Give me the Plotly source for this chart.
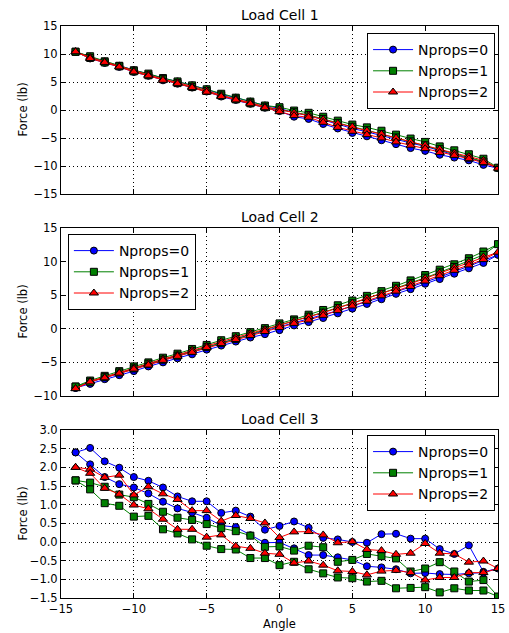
import plotly.graph_objects as go

# ---------------- data ----------------
ANGLES_FWD = [-14, -13, -12, -11, -10, -9, -8, -7, -6, -5, -4, -3, -2, -1, 0,
              1, 2, 3, 4, 5, 6, 7, 8, 9, 10, 11, 12, 13, 14, 15]
ANGLES_BACK = [14, 13, 12, 11, 10, 9, 8, 7, 6, 5, 4, 3, 2, 1, 0,
               -1, -2, -3, -4, -5, -6, -7, -8, -9, -10, -11, -12, -13, -14]

SERIES_NAMES = ["Nprops=0", "Nprops=1", "Nprops=2"]
TITLES = ["Load Cell 1", "Load Cell 2", "Load Cell 3"]

# Load Cell 1 (sweep up, then sweep back)
LC1_N0_FWD = [10.4, 9.5, 8.6, 7.9, 7.1, 6.4, 5.7, 5.1, 4.4, 3.7, 2.8, 2.2, 1.5, 0.8, 0.3,
              -0.5, -1.0, -1.8, -2.5, -3.3, -3.9, -4.6, -5.3, -5.9, -6.5, -7.3, -8.0, -8.6, -9.3, -10.4]
LC1_N0_BACK = [-9.8, -9.0, -8.5, -8.0, -7.3, -6.8, -6.1, -5.4, -4.7, -4.1, -3.3, -2.5, -1.6, -1.2, -0.2,
               0.4, 1.1, 1.8, 2.4, 3.3, 4.0, 4.7, 5.3, 6.1, 6.8, 7.7, 8.4, 9.2, 10.4]
LC1_N1_FWD = [10.4, 9.6, 8.7, 7.9, 7.1, 6.5, 5.7, 5.1, 4.4, 3.7, 2.9, 2.2, 1.5, 0.8, 0.5,
              -0.1, -0.5, -1.2, -1.9, -2.6, -3.1, -3.7, -4.4, -5.1, -5.7, -6.5, -7.2, -7.9, -8.7, -10.3]
LC1_N1_BACK = [-9.2, -8.5, -7.8, -7.0, -6.3, -5.6, -4.9, -4.3, -3.6, -3.0, -2.3, -1.6, -0.9, -0.4, 0.1,
               0.5, 1.2, 1.9, 2.6, 3.4, 4.1, 4.8, 5.5, 6.2, 6.9, 7.8, 8.5, 9.3, 10.4]
LC1_N2_FWD = [10.4, 9.4, 8.6, 7.8, 7.0, 6.3, 5.5, 4.9, 4.2, 3.5, 2.6, 2.0, 1.3, 0.6, 0.1,
              -0.5, -1.0, -1.7, -2.4, -3.0, -3.7, -4.3, -5.0, -5.7, -6.3, -7.0, -7.7, -8.3, -9.0, -10.4]
LC1_N2_BACK = [-9.4, -8.7, -8.1, -7.6, -6.9, -6.3, -5.7, -5.0, -4.4, -3.8, -3.1, -2.2, -1.3, -1.0, -0.3,
               0.4, 1.1, 1.8, 2.4, 3.2, 4.0, 4.7, 5.3, 6.1, 6.8, 7.7, 8.5, 9.2, 10.4]

# Load Cell 2
LC2_N0_FWD = [-8.8, -7.9, -7.3, -6.6, -6.0, -5.3, -4.7, -4.1, -3.4, -2.8, -2.1, -1.5, -0.9, -0.4, 0.2,
              0.8, 1.4, 2.0, 2.7, 3.4, 4.0, 4.7, 5.5, 6.2, 6.9, 7.7, 8.5, 9.3, 10.1, 11.0]
LC2_N0_BACK = [9.8, 9.0, 8.2, 7.4, 6.7, 5.9, 5.2, 4.4, 3.7, 3.0, 2.3, 1.6, 1.0, 0.5, -0.2,
               -0.8, -1.3, -1.9, -2.5, -3.1, -3.8, -4.4, -5.0, -5.6, -6.3, -6.9, -7.5, -8.2, -8.8]
LC2_N1_FWD = [-8.6, -7.7, -7.0, -6.3, -5.6, -5.0, -4.3, -3.7, -3.0, -2.4, -1.7, -1.1, -0.5, 0.1, 0.8,
              1.4, 2.1, 2.8, 3.5, 4.2, 4.9, 5.6, 6.4, 7.2, 8.0, 8.8, 9.6, 10.5, 11.5, 12.6]
LC2_N1_BACK = [11.0, 10.1, 9.2, 8.4, 7.6, 6.8, 6.0, 5.2, 4.5, 3.8, 3.1, 2.4, 1.8, 1.2, 0.5,
               -0.2, -0.8, -1.5, -2.1, -2.7, -3.3, -4.0, -4.6, -5.2, -5.9, -6.5, -7.2, -7.9, -8.6]
LC2_N2_FWD = [-8.9, -7.8, -7.2, -6.5, -5.8, -5.2, -4.5, -3.9, -3.2, -2.6, -1.9, -1.3, -0.7, -0.1, 0.5,
              1.1, 1.8, 2.4, 3.1, 3.8, 4.5, 5.2, 6.0, 6.7, 7.5, 8.3, 9.1, 9.9, 10.7, 11.4]
LC2_N2_BACK = [10.3, 9.5, 8.7, 7.9, 7.1, 6.3, 5.6, 4.9, 4.1, 3.4, 2.7, 2.0, 1.3, 0.8, 0.2,
               -0.4, -1.0, -1.6, -2.2, -2.8, -3.5, -4.1, -4.7, -5.4, -6.0, -6.6, -7.3, -7.9, -8.9]

# Load Cell 3
LC3_N0_FWD = [2.40, 2.52, 2.16, 1.99, 1.74, 1.64, 1.46, 1.22, 1.09, 1.09, 0.78, 0.84, 0.68, 0.33, 0.43,
              0.55, 0.38, 0.11, 0.07, 0.00, -0.02, 0.21, 0.22, 0.09, 0.09, -0.19, -0.32, -0.09, -0.80, -0.71]
LC3_N0_BACK = [-0.82, -0.84, -0.87, -0.86, -0.83, -0.84, -0.73, -0.68, -0.65, -0.48, -0.41, -0.35, -0.35, -0.17, -0.01,
               -0.02, 0.18, 0.40, 0.44, 0.65, 0.79, 0.90, 1.08, 1.30, 1.46, 1.55, 1.74, 2.08, 2.40]
LC3_N1_FWD = [1.65, 1.59, 1.48, 1.27, 1.20, 1.02, 0.81, 0.65, 0.59, 0.48, 0.37, 0.29, 0.17, -0.13, -0.12,
              -0.23, -0.10, -0.14, -0.53, -0.48, -0.32, -0.38, -0.44, -0.79, -0.71, -0.54, -0.79, -1.06, -1.02, -1.46]
LC3_N1_BACK = [-1.30, -1.30, -1.24, -1.35, -1.21, -1.23, -1.24, -1.04, -1.06, -0.97, -0.95, -0.84, -0.73, -0.53, -0.62,
               -0.43, -0.43, -0.20, -0.19, -0.10, 0.07, 0.23, 0.34, 0.70, 0.68, 0.97, 1.04, 1.41, 1.65]
LC3_N2_FWD = [2.00, 1.95, 1.73, 1.79, 1.26, 1.48, 1.29, 1.14, 0.84, 0.84, 0.56, 0.71, 0.63, 0.51, 0.12,
              0.27, 0.28, 0.19, -0.02, 0.01, -0.20, -0.23, -0.33, -0.30, -0.04, -0.30, -0.32, -0.54, -0.51, -0.71]
LC3_N2_BACK = [-0.82, -0.82, -0.95, -0.95, -1.02, -0.82, -0.76, -0.78, -0.88, -0.79, -0.77, -0.62, -0.51, -0.56, -0.33,
               -0.30, -0.17, -0.11, 0.19, 0.13, 0.34, 0.34, 0.61, 0.89, 0.99, 1.28, 1.44, 1.84, 2.00]

Y_TICKS = [
    [-15, -10, -5, 0, 5, 10, 15],
    [-10, -5, 0, 5, 10, 15],
    [-1.5, -1.0, -0.5, 0.0, 0.5, 1.0, 1.5, 2.0, 2.5, 3.0],
]
Y_TICK_TEXT = [
    ["−15", "−10", "−5", "0", "5", "10", "15"],
    ["−10", "−5", "0", "5", "10", "15"],
    ["−1.5", "−1.0", "−0.5", "0.0", "0.5", "1.0", "1.5", "2.0", "2.5", "3.0"],
]
X_TICKS = [-15, -10, -5, 0, 5, 10, 15]
X_TICK_TEXT = ["−15", "−10", "−5", "0", "5", "10", "15"]

CELLS = [
    [(LC1_N0_FWD, LC1_N0_BACK), (LC1_N1_FWD, LC1_N1_BACK), (LC1_N2_FWD, LC1_N2_BACK)],
    [(LC2_N0_FWD, LC2_N0_BACK), (LC2_N1_FWD, LC2_N1_BACK), (LC2_N2_FWD, LC2_N2_BACK)],
    [(LC3_N0_FWD, LC3_N0_BACK), (LC3_N1_FWD, LC3_N1_BACK), (LC3_N2_FWD, LC3_N2_BACK)],
]

# ---------------- style ----------------
COLORS = ["#0000ff", "#008000", "#ff0000"]
SYMBOLS = ["circle", "square", "triangle-up"]
MSIZES = [7, 7, 8]
FONT = "DejaVu Sans"

W, H = 509, 633
ML, MR, MT, MB = 61, 4, 26, 35
PH = H - MT - MB
PW = W - ML - MR

def py(Y):
    return (H - MB - Y) / PH

DOMAINS = [[py(194), py(26)], [py(396), py(228)], [py(598), py(430)]]

fig = go.Figure()
legend_names = ["legend", "legend2", "legend3"]
for ci, cell in enumerate(CELLS):
    for si, (fwd, back) in enumerate(cell):
        fig.add_trace(go.Scatter(
            x=ANGLES_FWD + ANGLES_BACK,
            y=fwd + back,
            mode="lines+markers",
            name=SERIES_NAMES[si],
            line=dict(color=COLORS[si], width=1),
            marker=dict(symbol=SYMBOLS[si], size=MSIZES[si], color=COLORS[si],
                        line=dict(color="black", width=1)),
            xaxis="x" if ci == 0 else f"x{ci+1}",
            yaxis="y" if ci == 0 else f"y{ci+1}",
            legend=legend_names[ci],
        ))

axis_common = dict(
    showline=True, linecolor="black", linewidth=1, mirror="allticks",
    ticks="inside", ticklen=5, tickcolor="black", tickwidth=1,
    showgrid=True, gridcolor="black", gridwidth=1, griddash="1px,3px",
    zeroline=False, ticklabeloverflow="allow",
    tickfont=dict(family=FONT, size=11.5, color="black"),
)

layout = dict(
    width=W, height=H,
    margin=dict(l=ML, r=MR, t=MT, b=MB),
    paper_bgcolor="white", plot_bgcolor="white",
    font=dict(family=FONT, color="black"),
    showlegend=True,
)

Y_RANGES = [[-15, 15], [-10, 15], [-1.5, 3.0]]
for ci in range(3):
    xk = "xaxis" if ci == 0 else f"xaxis{ci+1}"
    yk = "yaxis" if ci == 0 else f"yaxis{ci+1}"
    xa = dict(axis_common)
    xa.update(range=[-15, 15], domain=[0, 1], anchor="y" if ci == 0 else f"y{ci+1}",
              tickvals=X_TICKS, ticktext=X_TICK_TEXT, showticklabels=(ci == 2))
    ya = dict(axis_common)
    ya.update(range=Y_RANGES[ci], domain=DOMAINS[ci], anchor="x" if ci == 0 else f"x{ci+1}",
              tickvals=Y_TICKS[ci], ticktext=Y_TICK_TEXT[ci])
    layout[xk] = xa
    layout[yk] = ya

leg_common = dict(bgcolor="white", bordercolor="black", borderwidth=1,
                  itemwidth=40,
                  font=dict(family=FONT, size=14, color="black"))
layout["legend"] = dict(leg_common, x=(502 - ML) / PW, y=py(33), xanchor="right", yanchor="top")
layout["legend2"] = dict(leg_common, x=(68 - ML) / PW, y=py(234), xanchor="left", yanchor="top")
layout["legend3"] = dict(leg_common, x=(502 - ML) / PW, y=py(435), xanchor="right", yanchor="top")

fig.update_layout(**layout)

annotations = []
for ci in range(3):
    annotations.append(dict(
        text=TITLES[ci], xref="paper", yref="paper", x=0.5, y=DOMAINS[ci][1],
        xanchor="center", yanchor="bottom", yshift=1, showarrow=False,
        font=dict(family=FONT, size=14, color="black")))
    annotations.append(dict(
        text="Force (lb)", xref="paper", yref="paper",
        x=(22 - ML) / PW, y=(DOMAINS[ci][0] + DOMAINS[ci][1]) / 2,
        xanchor="center", yanchor="middle", textangle=-90, showarrow=False,
        font=dict(family=FONT, size=11.5, color="black")))
annotations.append(dict(
    text="Angle", xref="paper", yref="paper", x=0.5, y=py(624),
    xanchor="center", yanchor="middle", showarrow=False,
    font=dict(family=FONT, size=11.5, color="black")))
fig.update_layout(annotations=annotations)

fig.write_html("out.html",
               config={"displayModeBar": False},
               post_script="document.body.style.margin='0';document.body.style.overflow='hidden';")
